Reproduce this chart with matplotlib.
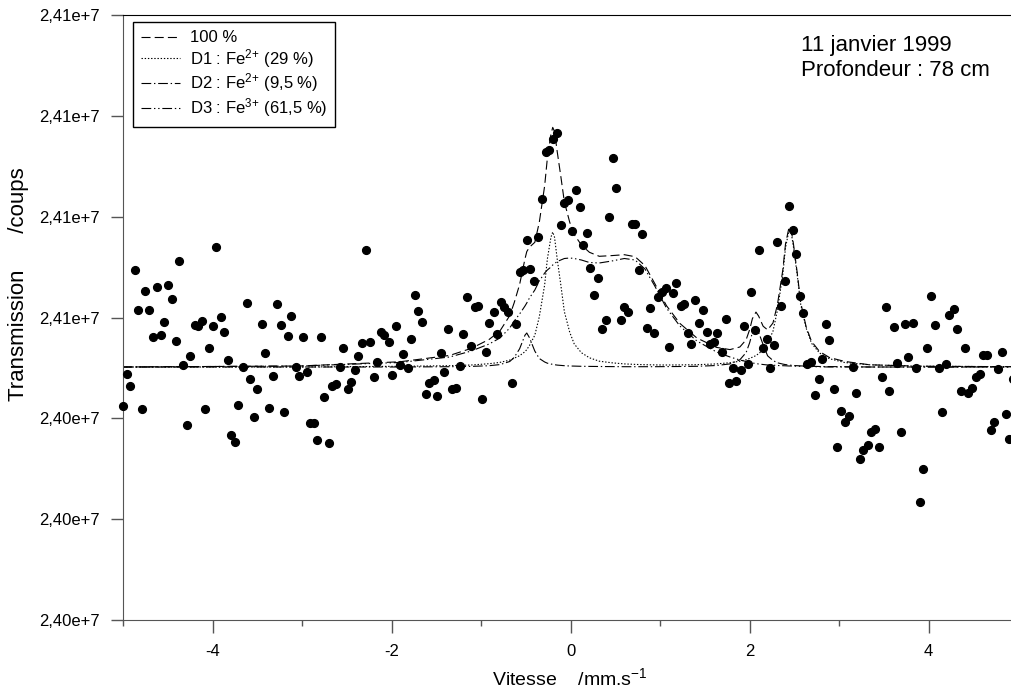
import matplotlib
matplotlib.use('Agg')
import matplotlib.pyplot as plt
from matplotlib.ticker import FuncFormatter, MultipleLocator
import numpy as np


# points mesures (vitesse en mm/s, transmission en coups)
vitesse = [
    -5.00, -4.96, -4.92, -4.87, -4.83, -4.79, -4.75, -4.71, -4.67, -4.62,
    -4.58, -4.54, -4.50, -4.45, -4.41, -4.37, -4.33, -4.29, -4.25, -4.20,
    -4.16, -4.12, -4.08, -4.04, -4.00, -3.96, -3.91, -3.87, -3.83, -3.79,
    -3.75, -3.71, -3.66, -3.62, -3.58, -3.54, -3.50, -3.45, -3.41, -3.37,
    -3.33, -3.28, -3.24, -3.20, -3.16, -3.12, -3.07, -3.03,
    -2.99, -2.95, -2.91, -2.87, -2.83, -2.79, -2.75, -2.70, -2.66, -2.62,
    -2.58, -2.54, -2.49, -2.45, -2.41, -2.37, -2.33, -2.29, -2.24, -2.20,
    -2.16, -2.12, -2.08, -2.03, -1.99, -1.95, -1.91, -1.87, -1.82, -1.78,
    -1.74, -1.70, -1.66, -1.62, -1.58, -1.53, -1.49, -1.45, -1.41, -1.37,
    -1.32, -1.28, -1.24, -1.20, -1.16, -1.11, -1.07,
    -1.03, -0.99, -0.95, -0.91, -0.86, -0.82, -0.78, -0.74, -0.70, -0.66,
    -0.61, -0.57, -0.53, -0.49, -0.45, -0.41, -0.36, -0.32, -0.28, -0.24,
    -0.20, -0.15, -0.11, -0.07, -0.03, 0.01, 0.06, 0.10, 0.14, 0.18,
    0.22, 0.26, 0.31, 0.35, 0.39, 0.43, 0.47, 0.51, 0.56, 0.60,
    0.64, 0.68, 0.72, 0.76, 0.80, 0.85, 0.89, 0.93,
    0.98, 1.02, 1.06, 1.10, 1.14, 1.18, 1.23, 1.27, 1.31, 1.35,
    1.39, 1.43, 1.48, 1.52, 1.56, 1.60, 1.64, 1.69, 1.73, 1.77,
    1.81, 1.85, 1.90, 1.94, 1.98, 2.02, 2.06, 2.10, 2.15, 2.19,
    2.23, 2.27, 2.31, 2.35, 2.39, 2.44, 2.48, 2.52, 2.56, 2.60,
    2.64, 2.68, 2.73, 2.77, 2.81, 2.85, 2.89,
    2.94, 2.98, 3.02, 3.06, 3.11, 3.15, 3.19, 3.23, 3.27, 3.32,
    3.36, 3.40, 3.44, 3.48, 3.52, 3.56, 3.61, 3.65, 3.69, 3.73,
    3.77, 3.82, 3.86, 3.90, 3.94, 3.98, 4.03, 4.07, 4.11, 4.15,
    4.19, 4.23, 4.28, 4.32, 4.36, 4.40, 4.44, 4.48, 4.53, 4.57,
    4.61, 4.65, 4.69, 4.73, 4.77, 4.82, 4.86, 4.90, 4.94,
]

coups = [
    24043430, 24046570, 24045370, 24057000, 24052970, 24043100, 24054900, 24052970, 24050270, 24055300,
    24050470, 24051770, 24055500, 24054100, 24049870, 24057930, 24047470, 24041530, 24048370, 24051470,
    24051370, 24051900, 24043100, 24049170, 24051370, 24059330, 24052270, 24050770, 24047970, 24040500,
    24039800, 24043530, 24047330, 24053700, 24046130, 24042300, 24045130, 24051570, 24048730, 24043200,
    24046430, 24053600, 24051470, 24042800, 24050370, 24052400, 24047330, 24046430,
    24050270, 24046830, 24041700, 24041700, 24040000, 24050270, 24044330, 24039700, 24045430, 24045630,
    24047270, 24049170, 24045130, 24045830, 24047030, 24048370, 24049670, 24059030, 24049770, 24046330,
    24047770, 24050800, 24050470, 24049770, 24046530, 24051370, 24047530, 24048570, 24047170, 24050070,
    24054500, 24052870, 24051770, 24044630, 24045730, 24046030, 24044430, 24048670, 24046830, 24051070,
    24045130, 24045230, 24047430, 24050570, 24054300, 24049370, 24053300,
    24053370, 24044130, 24048770, 24051670, 24052770, 24050570, 24053800, 24053300, 24052770, 24045670,
    24051570, 24056830, 24057000, 24060030, 24057130, 24055930, 24060330, 24064070, 24068800, 24069030,
    24070100, 24070730, 24061530, 24063670, 24063970, 24060870, 24064970, 24063270, 24059530, 24060730,
    24057230, 24054500, 24056200, 24051070, 24051970, 24062270, 24068200, 24065200, 24051970, 24053300,
    24052770, 24061570, 24061630, 24057000, 24060570, 24051170, 24053200, 24050750,
    24054330, 24054800, 24055170, 24049270, 24054730, 24055730, 24053430, 24053570, 24050730, 24049570,
    24053970, 24051670, 24053000, 24050830, 24049570, 24049770, 24050670, 24048770, 24052070, 24045670,
    24047170, 24045930, 24047030, 24051370, 24047570, 24054800, 24051030, 24059030, 24049170, 24050070,
    24047230, 24049470, 24059830, 24053370, 24055930, 24063370, 24061030, 24058630, 24054400, 24052670,
    24047630, 24047830, 24044530, 24046070, 24048100, 24051570, 24049970,
    24045130, 24039300, 24042930, 24041800, 24042430, 24047330, 24044730, 24038100, 24039000, 24039530,
    24040800, 24041100, 24039300, 24046270, 24053300, 24044930, 24051270, 24047670, 24040800, 24051600,
    24048270, 24051670, 24047170, 24033770, 24037070, 24049170, 24054400, 24051470, 24047170, 24042830,
    24047570, 24052500, 24053070, 24051070, 24044930, 24049170, 24044730, 24045230, 24046330, 24046570,
    24048470, 24048470, 24041000, 24041830, 24047070, 24048770, 24042630, 24040100, 24046070,
]

# courbes d'ajustement
fit_vitesse = [
    -5.00, -3.03, -1.91, -1.35, -1.11, -0.91, -0.79, -0.68, -0.63, -0.57,
    -0.51, -0.49, -0.46, -0.40, -0.35, -0.29, -0.26, -0.22, -0.20, -0.18,
    -0.15, -0.11, -0.07, -0.01, 0.04, 0.12, 0.21, 0.32, 0.46, 0.60,
    0.72, 0.83, 0.94, 1.07, 1.22, 1.41, 1.63, 1.78, 1.89, 1.96,
    2.00, 2.03, 2.07, 2.10, 2.15, 2.20, 2.26, 2.31, 2.37, 2.40,
    2.44, 2.46, 2.49, 2.53, 2.57, 2.63, 2.69, 2.78, 2.89, 3.06,
    3.34, 3.90, 4.93,
]

fit_total = [
    24047300, 24047400, 24047820, 24048460, 24049160, 24050060, 24050900, 24052440, 24053740, 24055550,
    24058110, 24058840, 24059280, 24059770, 24061770, 24065430, 24068180, 24070580, 24071260, 24070860,
    24068840, 24066390, 24063810, 24061770, 24060550, 24059500, 24058770, 24058370, 24058440, 24058530,
    24058330, 24057440, 24055640, 24053440, 24051660, 24050200, 24049260, 24049040, 24049300, 24050020,
    24051050, 24052130, 24052790, 24052390, 24051380, 24051010, 24051700, 24053550, 24057000, 24059590,
    24061300, 24061280, 24059530, 24056790, 24053740, 24051340, 24049870, 24048850, 24048250, 24047860,
    24047520, 24047380, 24047330,
]

fit_d1 = [
    24047300, 24047300, 24047370, 24047430, 24047500, 24047630, 24047760, 24047990, 24048180, 24048430,
    24048830, 24049040, 24049450, 24050480, 24052320, 24055530, 24058100, 24060280, 24060800, 24060280,
    24058100, 24055530, 24052830, 24050770, 24049610, 24048730, 24048220, 24047880, 24047720, 24047610,
    24047560, 24047530, 24047510, 24047500, 24047510, 24047530, 24047610, 24047730, 24047880, 24048030,
    24048160, 24048280, 24048440, 24048640, 24048990, 24049690, 24050870, 24052980, 24056580, 24059230,
    24061000, 24061000, 24059230, 24056580, 24053560, 24051200, 24049680, 24048700, 24048130, 24047750,
    24047520, 24047380, 24047330,
]

fit_d2 = [
    24047300, 24047300, 24047300, 24047330, 24047360, 24047430, 24047540, 24047850, 24048260, 24049120,
    24050480, 24050700, 24050230, 24048890, 24048150, 24047800, 24047680, 24047600, 24047560, 24047530,
    24047490, 24047460, 24047430, 24047400, 24047390, 24047370, 24047360, 24047350, 24047340, 24047330,
    24047330, 24047330, 24047330, 24047340, 24047350, 24047370, 24047450, 24047610, 24048020, 24048740,
    24049740, 24050750, 24051300, 24050750, 24049540, 24048420, 24047950, 24047720, 24047590, 24047540,
    24047500, 24047480, 24047450, 24047430, 24047410, 24047390, 24047370, 24047350, 24047340, 24047330,
    24047300, 24047300, 24047300,
]

fit_d3 = [
    24047300, 24047400, 24047750, 24048300, 24048900, 24049600, 24050200, 24051200, 24051900, 24052600,
    24053400, 24053700, 24054200, 24055000, 24055900, 24056700, 24057000, 24057300, 24057500, 24057650,
    24057850, 24058000, 24058150, 24058200, 24058150, 24058000, 24057750, 24057700, 24057900, 24058150,
    24058000, 24057100, 24055400, 24053200, 24051400, 24049900, 24048800, 24048300, 24048000, 24047850,
    24047750, 24047700, 24047650, 24047600, 24047550, 24047500, 24047480, 24047450, 24047430, 24047420,
    24047400, 24047400, 24047390, 24047380, 24047370, 24047350, 24047340, 24047320, 24047300, 24047300,
    24047300, 24047300, 24047300,
]

labels = ['100 %', 'D1 : Fe$^{2}$$^{+}$ (29 %)', 'D2 : Fe$^{2}$$^{+}$ (9,5 %)',
          'D3 : Fe$^{3}$$^{+}$ (61,5 %)']


plt.rcParams['font.family'] = ['Liberation Sans', 'DejaVu Sans']
plt.rcParams['mathtext.default'] = 'regular'
plt.rcParams['axes.unicode_minus'] = False
plt.rcParams['lines.scale_dashes'] = False

fig = plt.figure(figsize=(10.12, 6.93), dpi=100)
ax = fig.add_axes([123 / 1012, 1 - 620 / 693, 889 / 1012, 605 / 693])

ax.plot(fit_vitesse, fit_total, color='black', lw=0.8, ls=(0, (6.5, 3)), label=labels[0])
ax.plot(fit_vitesse, fit_d1, color='black', lw=0.8, ls=(0, (1, 1.3)), label=labels[1])
ax.plot(fit_vitesse, fit_d2, color='black', lw=0.8, ls=(0, (7, 2, 1, 2)), label=labels[2])
ax.plot(fit_vitesse, fit_d3, color='black', lw=0.8, ls=(0, (7, 2, 1, 2, 1, 2)), label=labels[3])
ax.plot(vitesse, coups, 'o', color='black', ms=5.6, clip_on=False, zorder=3)

ax.set_xlim(-5.0, 4.93)
ax.set_ylim(24022000, 24082500)
ax.set_yticks(np.linspace(24022000, 24082500, 7))
ax.yaxis.set_major_formatter(FuncFormatter(
    lambda v, p: ('%.2e' % v).replace('.', ',').replace('e+07', 'e+7')))
ax.xaxis.set_major_locator(MultipleLocator(2))
ax.xaxis.set_minor_locator(MultipleLocator(1))

grey = '#555555'
ax.tick_params(which='major', direction='out', length=9, width=1, color=grey, labelsize=12)
ax.tick_params(which='minor', direction='out', length=4, width=1, color=grey)
ax.tick_params(axis='x', pad=8)
ax.tick_params(axis='y', pad=8)
ax.spines['left'].set_color(grey)
ax.spines['bottom'].set_color(grey)
ax.spines['top'].set_color('black')
ax.spines['right'].set_visible(False)

leg = ax.legend(loc='upper left', bbox_to_anchor=(10 / 889, 1 - 7 / 605), borderaxespad=0,
                fontsize=12, fancybox=False, edgecolor='black', framealpha=1,
                handlelength=2.3, handletextpad=0.6, labelspacing=0.1, borderpad=0.5)
leg.get_frame().set_linewidth(1.0)

fig.text(801 / 1012, 1 - 45 / 693, '11 janvier 1999', fontsize=16, va='center')
fig.text(801 / 1012, 1 - 70 / 693, 'Profondeur : 78 cm', fontsize=16, va='center')

fig.text(19 / 1012, 1 - 284 / 693, 'Transmission      /coups', rotation=90,
         fontsize=16, ha='center', va='center')
fig.text(570 / 1012, 1 - 678 / 693, 'Vitesse    /mm.s$^{-1}$', fontsize=14,
         ha='center', va='center')

fig.savefig('out.png', dpi=100)
